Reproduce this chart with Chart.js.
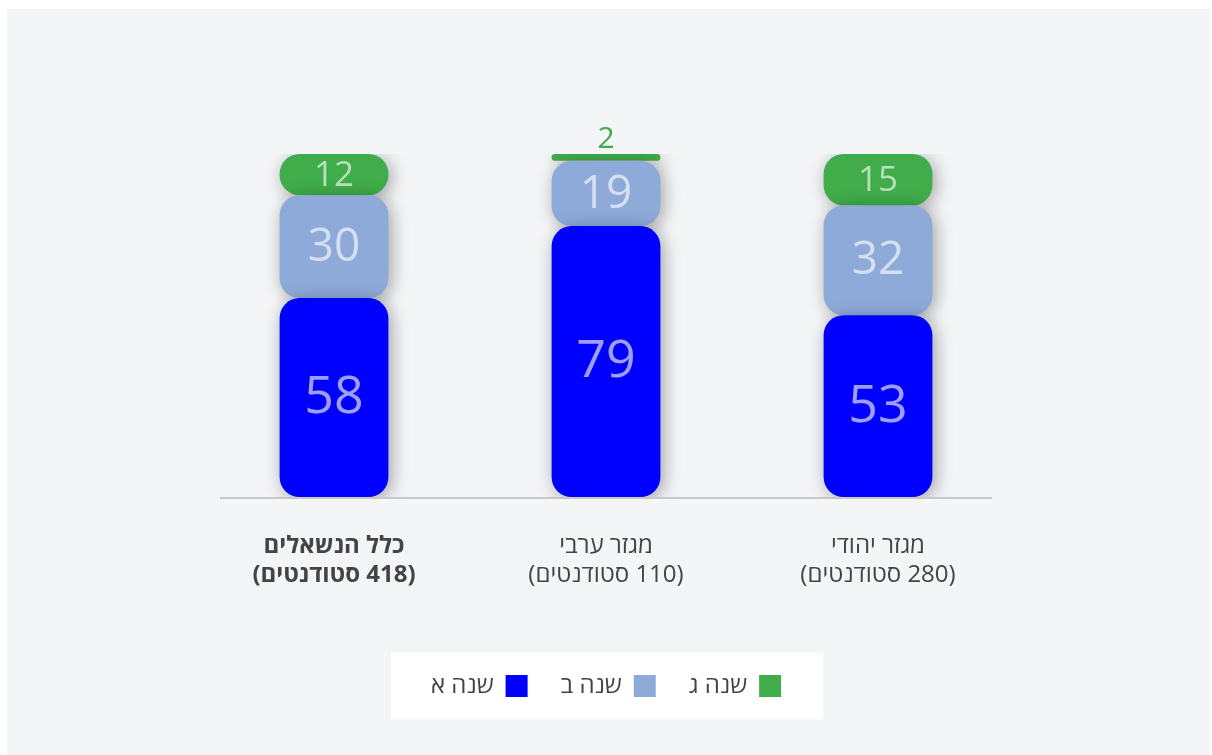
<!DOCTYPE html>
<html>
<head>
<meta charset="utf-8">
<script src="https://cdn.jsdelivr.net/npm/chart.js@4"></script>
<style>
  html, body { margin: 0; padding: 0; background: #ffffff; }
  #panel { position: absolute; left: 7px; top: 9px; width: 1203px; height: 746px; background: #f4f5f7; }
  canvas { display: block; }
</style>
</head>
<body>
<div id="panel"><canvas id="chart" width="1203" height="746"></canvas></div>
<script>
// Data (categories in logical order, drawn right-to-left)
const categories = ['מגזר יהודי', 'מגזר ערבי', 'כלל הנשאלים'];
const studentCounts = [280, 110, 418];
const seriesNames = ['שנה א', 'שנה ב', 'שנה ג'];
const yearA = [53, 79, 58];
const yearB = [32, 19, 30];
const yearC = [15, 2, 12];

const colors = ['#0000ff', '#8eaad9', '#40ad4a'];
const labelSizes = [52, 46, 35];
const FONT = '"Open Sans", "DejaVu Sans", sans-serif';

const tickLabels = categories.map((c, i) => [c, '(' + studentCounts[i] + ' סטודנטים)']);

const corners = { topLeft: 20, topRight: 20, bottomLeft: 20, bottomRight: 20 };

function makeSet(name, values, color) {
  return {
    label: name,
    data: values,
    backgroundColor: color,
    borderWidth: 0,
    borderRadius: corners,
    borderSkipped: false,
    barPercentage: 1,
    categoryPercentage: 0.4
  };
}

// Hebrew text: lay out all canvas text right-to-left
const rtlText = {
  id: 'rtlText',
  beforeDraw(chart) { chart.ctx.direction = 'rtl'; }
};

// white box behind the legend
const legendBg = {
  id: 'legendBg',
  beforeDraw(chart) {
    const lg = chart.legend;
    if (!lg || !lg.legendHitBoxes.length) return;
    let l = Infinity, r = -Infinity;
    lg.legendHitBoxes.forEach(b => { l = Math.min(l, b.left); r = Math.max(r, b.left + b.width); });
    const lab = lg.options.labels;
    const cy = lg.top + lab.padding + Math.max(lab.font.size, lab.boxHeight) / 2;
    const ctx = chart.ctx;
    ctx.save();
    ctx.fillStyle = '#ffffff';
    ctx.fillRect(l - 40, cy - 33.5, (r - l) + 82, 67);
    ctx.restore();
  }
};

// base line, shorter than the category area
const baseLine = {
  id: 'baseLine',
  beforeDatasetsDraw(chart) {
    const a = chart.chartArea, ctx = chart.ctx;
    ctx.save();
    ctx.strokeStyle = '#c8c8c8';
    ctx.lineWidth = 2;
    ctx.beginPath();
    ctx.moveTo(a.left + 22, a.bottom + 1);
    ctx.lineTo(a.right - 22, a.bottom + 1);
    ctx.stroke();
    ctx.restore();
  }
};

// soft shadow under each bar
const barShadow = {
  id: 'barShadow',
  beforeDatasetDraw(chart) {
    const ctx = chart.ctx;
    ctx.save();
    ctx.shadowColor = 'rgba(0,0,0,0.35)';
    ctx.shadowBlur = 18;
    ctx.shadowOffsetX = 3;
    ctx.shadowOffsetY = 3;
  },
  afterDatasetDraw(chart) {
    chart.ctx.restore();
  }
};

// value labels inside the segments (above when the segment is too thin)
const valueLabels = {
  id: 'valueLabels',
  afterDatasetsDraw(chart) {
    const ctx = chart.ctx;
    ctx.save();
    ctx.textAlign = 'center';
    chart.data.datasets.forEach((ds, i) => {
      const meta = chart.getDatasetMeta(i);
      meta.data.forEach((bar, j) => {
        const p = bar.getProps(['x', 'y', 'base'], true);
        const h = p.base - p.y;
        const v = ds.data[j];
        if (h < 20) {
          ctx.font = '30px ' + FONT;
          ctx.fillStyle = ds.backgroundColor;
          ctx.textBaseline = 'alphabetic';
          ctx.fillText(v, p.x, p.y - 6);
        } else {
          ctx.font = labelSizes[i] + 'px ' + FONT;
          ctx.fillStyle = 'rgba(255,255,255,0.62)';
          ctx.textBaseline = 'middle';
          ctx.fillText(v, p.x, (p.y + p.base) / 2 + 1);
        }
      });
    });
    ctx.restore();
  }
};

new Chart(document.getElementById('chart'), {
  type: 'bar',
  data: {
    labels: tickLabels,
    datasets: [
      makeSet(seriesNames[0], yearA, colors[0]),
      makeSet(seriesNames[1], yearB, colors[1]),
      makeSet(seriesNames[2], yearC, colors[2])
    ]
  },
  options: {
    responsive: false,
    animation: false,
    layout: { padding: { left: 191, right: 196, top: 145, bottom: 47 } },
    scales: {
      x: {
        stacked: true,
        reverse: true,
        grid: { display: false, drawTicks: false },
        border: { display: false },
        afterFit: s => { s.height = 144; },
        ticks: {
          color: '#444444',
          padding: 35,
          maxRotation: 0,
          autoSkip: false,
          font: ctx => ({ family: FONT, size: 24, lineHeight: 1.21, weight: ctx.index === 2 ? 'bold' : 'normal' })
        }
      },
      y: { stacked: true, display: false, min: 0, max: 100 }
    },
    plugins: {
      tooltip: { enabled: false },
      legend: {
        position: 'bottom',
        rtl: true,
        reverse: true,
        labels: {
          boxWidth: 22,
          boxHeight: 22,
          padding: 33,
          color: '#444444',
          font: { family: FONT, size: 24 }
        }
      }
    }
  },
  plugins: [rtlText, legendBg, baseLine, barShadow, valueLabels]
});
</script>
</body>
</html>
